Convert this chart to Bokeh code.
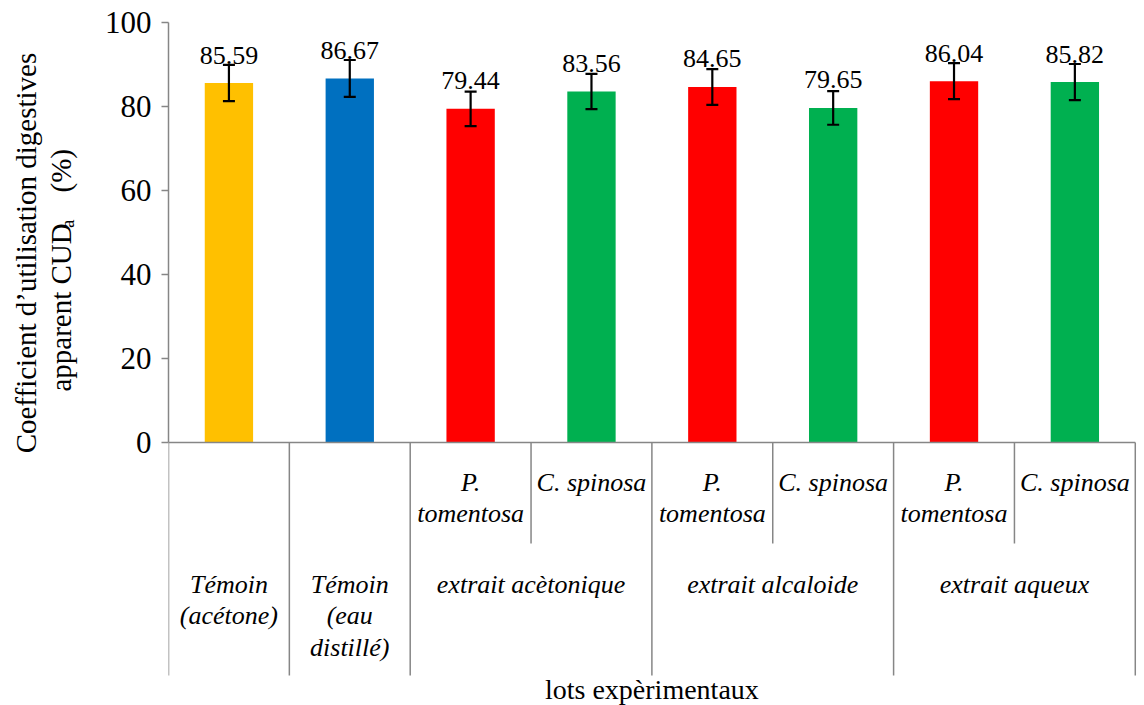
import math
from itertools import groupby

from bokeh.plotting import figure
from bokeh.layouts import row
from bokeh.models import (ColumnDataSource, Range1d, LinearAxis, FixedTicker,
                          Whisker, TeeHead)
from bokeh.core.properties import value
from bokeh.embed import file_html
from bokeh.resources import INLINE

# ---------------- data ----------------
lots = ["Témoin\n(acétone)", "Témoin\n(eau\ndistillé)",
        "extrait acètonique", "extrait acètonique",
        "extrait alcaloide", "extrait alcaloide",
        "extrait aqueux", "extrait aqueux"]
especes = ["", "", "P.\ntomentosa", "C. spinosa",
           "P.\ntomentosa", "C. spinosa",
           "P.\ntomentosa", "C. spinosa"]
cuda = [85.59, 86.67, 79.44, 83.56, 84.65, 79.65, 86.04, 85.82]
erreurs = [4.3, 4.4, 4.1, 4.2, 4.25, 4.0, 4.3, 4.3]
couleurs = ["#FFC000", "#0070C0", "#FF0000", "#00B050",
            "#FF0000", "#00B050", "#FF0000", "#00B050"]
y_ticks = [0, 20, 40, 60, 80, 100]

y_title_1 = "Coefficient d\u2019utilisation digestives"
y_title_2 = "apparent CUD"
y_title_sub = "a"
y_title_3 = "(%)"
x_title = "lots expèrimentaux"

# ---------------- layout ----------------
SERIF = "Liberation Serif"
AXIS_GREY = "#868686"
PAGE_W, PAGE_H = 1144, 705
LEFT_W = 100                 # width of the y-title strip
FRAME_LEFT_PAGE = 168
FRAME_TOP_PAGE = 22
FRAME_RIGHT_PAGE = 1136
PX_PER_UNIT = 4.2            # vertical pixels per % unit
ZERO_PAGE_Y = 442            # page y of value 0
Y_BOTTOM = -(PAGE_H - ZERO_PAGE_Y) / PX_PER_UNIT
N = len(cuda)
X_END = N + 0.01


def ydata(page_y):
    return (ZERO_PAGE_Y - page_y) / PX_PER_UNIT


# ---- left strip with the rotated y title ----
left = figure(width=LEFT_W, height=PAGE_H,
              x_range=Range1d(0, LEFT_W), y_range=Range1d(0, PAGE_H),
              output_backend="svg", toolbar_location=None,
              x_axis_type=None, y_axis_type=None,
              min_border_left=0, min_border_right=0,
              min_border_top=0, min_border_bottom=0)
left.outline_line_color = None
left.background_fill_color = "white"
left.border_fill_color = "white"


def ly(page_y):
    return PAGE_H - page_y


rot = math.pi / 2
title_kw = dict(angle=rot, text_baseline="alphabetic",
                text_font=value(SERIF), text_color="black")
left.text(x=[25], y=[ly(238)], text=[y_title_1], text_align="center",
          text_font_size="29px", **title_kw)
left.text(x=[60], y=[ly(381)], text=[y_title_2], text_align="left",
          text_font_size="29px", **title_kw)
left.text(x=[67], y=[ly(212)], text=[y_title_sub], text_align="left",
          text_font_size="19px", **title_kw)
left.text(x=[60], y=[ly(153)], text=[y_title_3], text_align="center",
          text_font_size="29px", **title_kw)

# ---- main chart ----
p = figure(width=PAGE_W - LEFT_W, height=PAGE_H,
           x_range=Range1d(0, X_END), y_range=Range1d(Y_BOTTOM, 100),
           output_backend="svg", toolbar_location=None,
           x_axis_type=None, y_axis_type=None,
           min_border_left=FRAME_LEFT_PAGE - LEFT_W,
           min_border_right=PAGE_W - FRAME_RIGHT_PAGE,
           min_border_top=FRAME_TOP_PAGE, min_border_bottom=0)
p.outline_line_color = None
p.background_fill_color = "white"
p.border_fill_color = "white"

yaxis = LinearAxis(ticker=FixedTicker(ticks=y_ticks), bounds=(0, 100))
yaxis.axis_line_color = AXIS_GREY
yaxis.axis_line_width = 1.5
yaxis.major_tick_line_color = AXIS_GREY
yaxis.major_tick_line_width = 1.5
yaxis.major_tick_out = 7
yaxis.major_tick_in = 0
yaxis.minor_tick_line_color = None
yaxis.major_label_text_font = SERIF
yaxis.major_label_text_font_size = "31px"
yaxis.major_label_text_color = "black"
yaxis.major_label_standoff = 10
p.add_layout(yaxis, "left")

xs = [i + 0.5 for i in range(N)]
src = ColumnDataSource(dict(
    x=xs, cuda=cuda, color=couleurs,
    upper=[v + e for v, e in zip(cuda, erreurs)],
    lower=[v - e for v, e in zip(cuda, erreurs)],
    label=["{:.2f}".format(v) for v in cuda],
))
p.vbar(x="x", top="cuda", bottom=0, width=0.4, fill_color="color",
       line_color=None, source=src)

# category axis: base line and separators
group_bounds = [0]
group_centers, group_labels = [], []
pos = 0
for name, g in groupby(lots):
    n = len(list(g))
    group_centers.append(pos + n / 2)
    group_labels.append(name)
    pos += n
    group_bounds.append(pos)
inner_bounds = [i for i in range(1, N) if i not in group_bounds]

p.segment(x0=[0], y0=[0], x1=[N], y1=[0], line_color=AXIS_GREY, line_width=1.5)
p.segment(x0=group_bounds, y0=[0] * len(group_bounds),
          x1=group_bounds, y1=[ydata(675)] * len(group_bounds),
          line_color=AXIS_GREY, line_width=1.5)
p.segment(x0=inner_bounds, y0=[0] * len(inner_bounds),
          x1=inner_bounds, y1=[ydata(543)] * len(inner_bounds),
          line_color=AXIS_GREY, line_width=1.5)

wh = Whisker(source=src, base="x", upper="upper", lower="lower",
             line_color="black", line_width=2.2, level="overlay",
             upper_head=TeeHead(size=12, line_color="black", line_width=2.2),
             lower_head=TeeHead(size=12, line_color="black", line_width=2.2))
p.add_layout(wh)

p.text(x="x", y="cuda", text="label", source=src, y_offset=-28,
       text_align="center", text_baseline="alphabetic",
       text_font=value(SERIF), text_font_size="26px", text_color="black")

cat_kw = dict(text_align="center", text_baseline="top", text_line_height=1.1,
              text_font=value(SERIF), text_font_style="italic",
              text_font_size="26px", text_color="black")
p.text(x=xs, y=[ydata(467)] * N, text=especes, **cat_kw)
p.text(x=group_centers, y=[ydata(569)] * len(group_centers),
       text=group_labels, **cat_kw)

p.text(x=[N / 2], y=[ydata(689)], text=[x_title],
       text_align="center", text_baseline="alphabetic",
       text_font=value(SERIF), text_font_size="28px", text_color="black")

open("out.html", "w").write(file_html(row(left, p), INLINE))
